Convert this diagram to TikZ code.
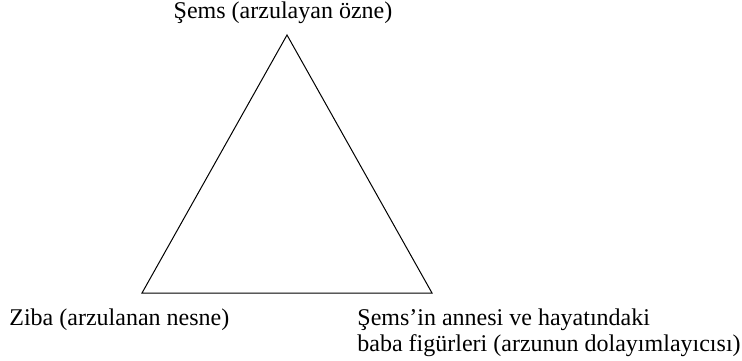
\documentclass[tikz,border=0pt]{standalone}
\usepackage{fontspec}
\setmainfont{Liberation Serif}
\usetikzlibrary{positioning}
\tikzset{
    corner/.style = {inner sep=0pt, outer sep=0pt},
    actant/.style = {inner sep=0pt, font=\fontsize{12pt}{13pt}\selectfont, align=left},
    side/.style = {draw=black, line width=0.5pt, line join=miter}
}

\begin{document}
\begin{tikzpicture}[x=0.5pt, y=-0.5pt]
    \useasboundingbox (0,0) rectangle (742,360);

    % Corners
    \coordinate (subject) at (287,35);
    \coordinate (object) at (142,293);
    \coordinate (mediator) at (432,293);

    % Labels
    \node [actant, anchor=base] (subjectlabel) at (283,18) {Şems (arzulayan özne)};
    \node [actant, anchor=base west] (objectlabel) at (9,325) {Ziba (arzulanan nesne)};
    \node [actant, anchor=base west] (mediatorlabel) at (357,351) {Şems’in annesi ve hayatındaki\\baba figürleri (arzunun dolayımlayıcısı)};

    % Triangle
    \draw [side] (subject) -- (object) -- (mediator) -- cycle;
\end{tikzpicture}
\end{document}
